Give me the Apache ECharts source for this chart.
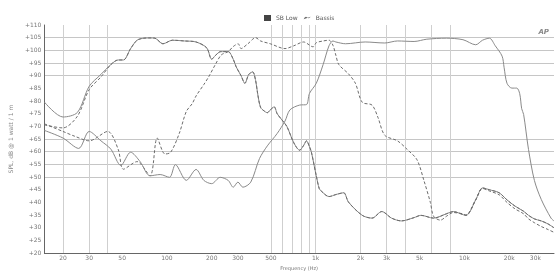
<!DOCTYPE html>
<html>
<head>
<meta charset="utf-8">
<script src="https://cdn.jsdelivr.net/npm/echarts@6/dist/echarts.min.js"></script>
<style>
    html, body { margin: 0; padding: 0; background: #fff; }
    #chart { width: 556px; height: 276px; }
</style>
</head>
<body>
<div id="chart"></div>
<script>
// axis ticks / grid positions
var freqLabels = [20, 30, 50, 100, 200, 300, 500, 1000, 2000, 3000, 5000, 10000, 20000, 30000];
var freqGrid = [20, 30, 40, 500, 600, 700, 800, 900, 1000, 2000, 3000, 4000, 6000, 8000];
var splGrid = [50, 55, 60, 65, 90, 95, 100, 105];

// woofer (low)
var lowFreq = [15, 20, 25, 30, 36, 42, 47, 51, 57, 63, 70, 77, 83, 94, 109, 131, 157, 185, 200, 212,
    230, 258, 279, 292, 315, 334, 355, 377, 395, 407, 426, 452, 473, 495, 526, 551, 594, 641, 713, 780,
    830, 868, 908, 936, 1009, 1056, 1089, 1229, 1366, 1542, 1663, 2056, 2392, 2782, 3237, 3766, 4586, 5098, 6207, 7556,
    8403, 10230, 11904, 13236, 14718, 17118, 19320, 21813, 24998, 26958, 29523, 32820, 36490, 39970];
var lowSolid = [79.6, 73.7, 75.5, 85.8, 90.5, 94.4, 96.2, 96.2, 100.7, 104.0, 104.8, 104.9, 104.8, 102.6, 104.0, 103.7, 103.3, 101, 96.5, 98,
    99.5, 99.5, 96.5, 93.5, 90, 87, 90.5, 91.5, 88, 83, 77.5, 76, 75.4, 76.5, 77.7, 75, 72.5, 69.9, 63.5, 60.6,
    62.5, 64.3, 62, 59.8, 50.5, 45.5, 44.5, 42.3, 43.1, 43.8, 40.1, 34.9, 33.8, 36.4, 33.8, 32.7, 34, 34.9, 33.8, 35.5,
    36.4, 34.9, 41, 45.7, 45, 43.8, 41, 38.6, 36.5, 34.9, 33.5, 32.7, 31.5, 30];
var lowDashed = [70.6, 69.4, 74, 84.5, 89.5, 94.4, 96.2, 96.2, 100.7, 104.0, 104.8, 104.9, 104.8, 102.6, 104.0, 103.7, 103.3, 101, 96.5, 98,
    99.5, 99.5, 96.5, 93.5, 90, 87, 90.5, 91.5, 88, 83, 77.5, 76, 75.4, 76.5, 77.7, 75, 72.5, 69.9, 63.5, 60.6,
    62.5, 64.3, 62, 59.8, 50.5, 45.5, 44.5, 42.3, 43.1, 43.8, 40.1, 34.9, 33.8, 36.4, 33.8, 32.7, 34, 34.9, 33.8, 35.5,
    36.4, 34.9, 41, 45.7, 45, 43.8, 41, 38.6, 36.5, 34.9, 33.5, 32.7, 31.5, 30];

// mid
var midFreq = [15, 20, 24, 30, 40, 47, 51, 63, 77, 86, 97, 106, 121, 135, 148, 157, 177, 191, 212, 232,
    258, 279, 301, 315, 350, 395, 426, 495, 622, 713, 829, 960, 1009, 1122, 1229, 1306, 1366, 1430, 1663, 1849,
    2056, 2392, 2619, 2912, 3544, 4125, 4800, 5337, 5900, 6207, 6903, 7556, 8403, 9774, 10230, 11904, 13236, 14718, 17118, 19320,
    21813, 24998, 26958, 29523, 32820, 36490, 39970];
var midVals = [71, 68, 66.1, 64.3, 68, 61, 53.1, 56.1, 50.5, 65.4, 59.1, 59.8, 67.2, 75.9, 79, 82, 86.5, 89.6, 94.5, 98.2,
    99.5, 101.5, 102.6, 100.7, 102.6, 105, 103.7, 102.6, 100.7, 101.8, 103.3, 101.4, 103, 103.7, 104, 102, 98.1, 94.4, 90.7, 87,
    79.5, 78.4, 73.6, 66.5, 64.3, 60.9, 56.8, 48.7, 40, 34.5, 33, 34.5, 36, 35.5, 35, 41, 45.5, 44.5, 43, 40,
    37.5, 35.5, 33.5, 32, 30.5, 29.3, 28.2];

// tweeter (high)
var highFreq = [15, 20, 25.5, 30, 36, 42, 49, 57, 66, 77, 90, 104, 114, 135, 157, 177, 200, 228, 258, 279,
    300, 324, 366, 419, 473, 551, 622, 671, 780, 868, 908, 1009, 1122, 1229, 1306, 1366, 1589, 2151, 2912, 3544,
    4586, 5585, 7556, 9774, 11904, 13236, 14718, 16111, 17917, 18469, 19320, 20843, 22482, 23527, 24250, 24998, 26958, 29523, 32820, 38190,
    39970];
var highVals = [68.4, 65.4, 61.3, 68, 64.3, 61, 54.6, 59.8, 56.1, 50.5, 51, 49.9, 54.9, 48.7, 53, 48.7, 47.4, 49.9, 48.7, 46,
    48, 46, 48, 57.3, 62.3, 67.2, 72.1, 76.5, 78.4, 78.6, 83, 87, 94.4, 101.8, 103.7, 103.3, 102.6, 103.3, 102.9, 103.7,
    103.5, 104.4, 104.8, 104.2, 102.2, 104, 104.8, 101.8, 97.7, 93.3, 87, 85.1, 85.1, 82.9, 77, 74.7, 60.9, 48.7, 41.2, 33.8,
    32.7];

var yMin = 20, yMax = 110, yStep = 5;

function pairs(f, v) {
    var out = [];
    for (var i = 0; i < f.length; i++) {
        out.push([f[i], v[i]]);
    }
    return out;
}

function hzLabel(v) {
    return v >= 1000 ? (v / 1000) + 'k' : String(v);
}

// only some horizontal lines are drawn in the original
function splitColors() {
    var cols = [];
    for (var v = yMin; v <= yMax; v += yStep) {
        cols.push(splGrid.indexOf(v) >= 0 ? '#c6c6c6' : 'rgba(0,0,0,0)');
    }
    return cols;
}

function curve(name, f, v, dashed) {
    return {
        name: name,
        type: 'line',
        data: pairs(f, v),
        showSymbol: false,
        smooth: 0.3,
        lineStyle: {width: 1, color: dashed ? '#6c6c6c' : '#8a8a8a', type: dashed ? [3, 2] : 'solid'},
        itemStyle: {color: dashed ? '#6c6c6c' : '#444'}
    };
}

var chart = echarts.init(document.getElementById('chart'));

var option = {
    animation: false,
    backgroundColor: '#fff',
    textStyle: {fontFamily: 'DejaVu Sans'},
    legend: {
        top: 10,
        left: 259,
        itemWidth: 7,
        itemHeight: 6,
        itemGap: 6,
        textStyle: {fontSize: 6, color: '#555'},
        data: [{name: 'SB Low', icon: 'rect'}, {name: 'Bassis', icon: 'path://M0,6 Q3,0 6,3 T12,2'}]
    },
    grid: {left: 33, right: 2, top: 25, bottom: 9},
    xAxis: {
        type: 'log',
        logBase: 10,
        min: 15,
        max: 40000,
        name: 'Frequency (Hz)',
        nameLocation: 'middle',
        nameGap: 6,
        nameTextStyle: {fontSize: 5, color: '#777'},
        axisLine: {lineStyle: {color: '#666'}},
        axisTick: {show: false, customValues: freqGrid},
        axisLabel: {customValues: freqLabels, formatter: hzLabel, fontSize: 6, color: '#777', margin: 2},
        splitLine: {show: true, lineStyle: {color: '#cfcfcf', width: 1}}
    },
    yAxis: {
        type: 'value',
        min: yMin,
        max: yMax,
        interval: yStep,
        name: 'SPL, dB @ 1 watt / 1 m',
        nameLocation: 'middle',
        nameGap: 24,
        nameTextStyle: {fontSize: 6, color: '#888'},
        axisLine: {show: true, lineStyle: {color: '#666'}},
        axisTick: {show: false},
        axisLabel: {formatter: function (v) { return '+' + v; }, fontSize: 6, color: '#777', margin: 3},
        splitLine: {show: true, lineStyle: {color: splitColors()}}
    },
    graphic: [{
        type: 'text',
        right: 7,
        top: 29,
        style: {text: 'AP', font: 'italic bold 7px DejaVu Sans', fill: '#888'}
    }],
    series: [
        curve('SB Low', lowFreq, lowSolid, false),
        curve('Bassis', lowFreq, lowDashed, true),
        curve('Bassis', midFreq, midVals, true),
        curve('SB Low', highFreq, highVals, false)
    ]
};

chart.setOption(option);
</script>
</body>
</html>
